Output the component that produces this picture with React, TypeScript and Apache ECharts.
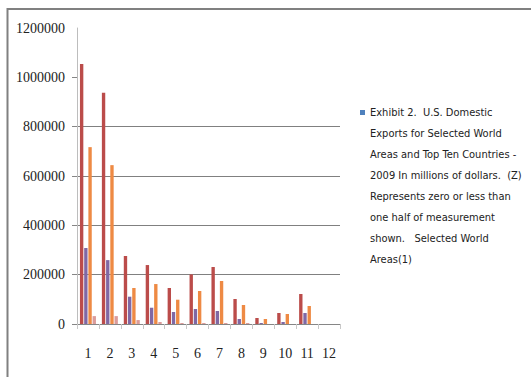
import React, { useEffect, useRef } from "react";
import * as echarts from "echarts";

// Category labels along the x axis
const categories = ["1", "2", "3", "4", "5", "6", "7", "8", "9", "10", "11", "12"];

// Legend caption (single legend entry)
const legendName =
  "Exhibit 2.  U.S. Domestic\nExports for Selected World\nAreas and Top Ten Countries -\n2009 In millions of dollars.  (Z)\nRepresents zero or less than\none half of measurement\nshown.   Selected World\nAreas(1)";

// Bar series values (millions of dollars)
const redValues = [1054000, 937600, 275600, 239000, 146000, 201000, 231000, 101300, 24300, 44600, 121600, null];
const purpleValues = [308000, 259000, 110700, 66000, 48600, 60800, 52700, 20300, 4000, 8100, 44600, null];
const orangeValues = [717000, 644000, 146000, 162000, 98500, 133800, 174300, 77000, 20300, 40500, 73000, null];
const pinkValues = [32000, 32000, 16000, 8000, 4000, 4000, 4000, 4000, null, null, null, null];

// Y axis scale
const yMin = 0;
const yMax = 1200000;
const yStep = 200000;
const yTickValues = [0, 200000, 400000, 600000, 800000, 1000000];

// Legend text block: 8 lines of 21px
const legendLineHeight = 21;
const legendBlockHeight = legendLineHeight * 8;

// Square marker beside the first caption line; two hair-sized dots pin the
// icon's box to the full text height so the caption starts level with it.
const legendIcon = `path://M0 8h5v5h-5z M0 0h0.01v0.01h-0.01z M0 ${legendBlockHeight}h0.01v0.01h-0.01z`;

export default function App() {
  const ref = useRef<HTMLDivElement>(null);

  useEffect(() => {
    if (!ref.current) return;
    const chart = echarts.init(ref.current, null, { renderer: "svg" });

    const barCommon = {
      type: "bar" as const,
      barGap: "25%",
      barCategoryGap: "27%",
      silent: true,
    };

    chart.setOption({
      animation: false,
      backgroundColor: "#ffffff",
      graphic: [
        {
          type: "rect",
          shape: { x: 7.5, y: 9, width: 700, height: 600 },
          style: { fill: "none", stroke: "#808080", lineWidth: 2 },
          silent: true,
        },
      ],
      grid: { left: 77, right: 191, top: 28, bottom: 53 },
      legend: {
        left: 355,
        top: 97,
        orient: "vertical",
        itemWidth: 5,
        itemHeight: legendBlockHeight,
        selectedMode: false,
        data: [{ name: legendName, icon: legendIcon }],
        textStyle: {
          fontFamily: "'Liberation Sans Narrow', 'DejaVu Sans Condensed', sans-serif",
          fontSize: 11,
          lineHeight: legendLineHeight,
          color: "#222222",
        },
      },
      xAxis: {
        type: "category",
        data: categories,
        boundaryGap: true,
        axisLine: { show: true, lineStyle: { color: "#868686", width: 1 } },
        axisTick: { show: true, length: 5, lineStyle: { color: "#C8C8C8" } },
        axisLabel: {
          margin: 22,
          fontFamily: "'Liberation Serif', serif",
          fontSize: 14,
          color: "#222222",
        },
        splitLine: { show: false },
      },
      yAxis: {
        type: "value",
        min: yMin,
        max: yMax,
        interval: yStep,
        axisLine: { show: true, lineStyle: { color: "#BDBDBD", width: 1 } },
        axisTick: {
          show: true,
          length: 5,
          customValues: yTickValues,
          lineStyle: { color: "#868686" },
        },
        axisLabel: {
          margin: 12,
          fontFamily: "'Liberation Serif', serif",
          fontSize: 14,
          color: "#222222",
          formatter: (v: number) => String(v),
        },
        splitLine: {
          show: true,
          showMinLine: false,
          showMaxLine: false,
          lineStyle: { color: "#808080", width: 1 },
        },
      },
      series: [
        {
          name: legendName,
          type: "line",
          data: [],
          color: "#4F81BD",
          silent: true,
        },
        { ...barCommon, name: "red", data: redValues, itemStyle: { color: "#BB4C4A" } },
        { ...barCommon, name: "purple", data: purpleValues, itemStyle: { color: "#8068A4" } },
        { ...barCommon, name: "orange", data: orangeValues, itemStyle: { color: "#EE8A44" } },
        { ...barCommon, name: "pink", data: pinkValues, itemStyle: { color: "#DB9C9B" } },
      ],
    });

    return () => chart.dispose();
  }, []);

  return (
    <div
      ref={ref}
      style={{ position: "fixed", left: 0, top: 0, width: 531, height: 377 }}
    />
  );
}
